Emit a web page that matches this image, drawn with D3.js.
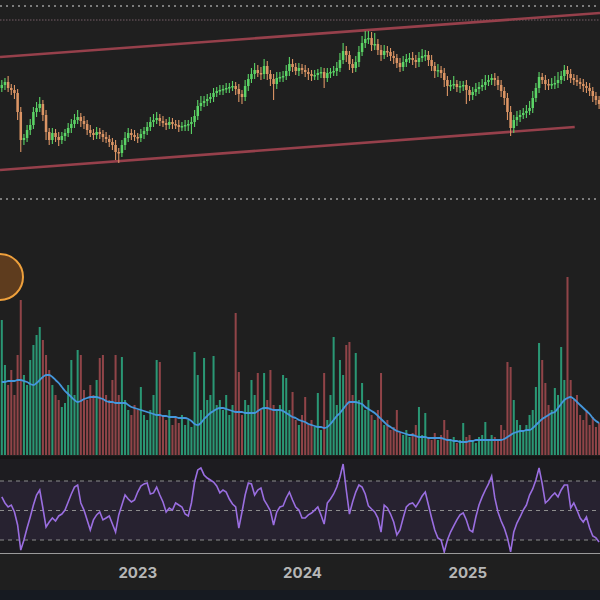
<!DOCTYPE html>
<html><head><meta charset="utf-8">
<script src="https://cdn.jsdelivr.net/npm/d3@7"></script>
<style>html,body{margin:0;padding:0;background:#1f1f1f;}svg{display:block;}</style>
</head><body>
<script>
// ---- data (weekly bars) ----
const startWeek = "2022-03-07";
const yearTicks = ["2023-01-01", "2024-01-01", "2025-01-01"];
const closes = [
115,118,112,110,107,88,60,62,70,75,
88,92,96,85,68,60,67,63,60,64,
67,72,76,80,83,79,76,70,67,65,
68,66,63,61,58,55,48,47,55,62,
67,65,63,62,66,69,73,78,80,82,
79,77,75,78,76,75,73,74,75,76,
78,84,94,97,99,101,103,107,109,110,
111,112,113,114,111,106,103,114,121,126,
130,127,126,134,126,121,116,122,123,124,
129,136,133,129,132,130,128,126,124,125,
127,128,122,127,128,129,132,140,149,145,
136,132,138,148,157,161,162,155,156,150,
145,149,148,144,142,137,133,138,141,142,
140,138,142,144,145,140,134,129,130,127,
120,114,115,116,113,114,115,110,105,108,
111,113,115,118,120,122,120,115,109,102,
88,72,80,83,85,87,89,92,102,112,
123,120,116,115,116,117,120,124,130,126,
122,120,118,116,114,112,109,104,100,96];
const wickUp = [
5,4,6,4,5,4,5,4,5,6, 5,6,7,4,5,4,5,4,5,4, 4,5,5,6,7,4,5,4,5,4, 5,4,4,5,4,4,5,4,5,6,
5,4,5,4,5,4,5,5,6,6, 4,5,4,5,4,4,5,4,5,4, 5,6,6,7,5,5,4,5,4,5, 4,5,4,5,4,5,4,6,5,6,
7,5,6,7,5,4,5,6,5,5, 6,7,5,4,5,4,5,4,4,5, 4,5,4,5,4,5,6,7,8,5, 4,5,6,6,7,8,7,6,11,5,
5,6,5,4,5,4,5,6,5,5, 6,5,6,7,5,4,5,4,6,4, 5,4,5,8,4,5,4,5,4,5, 6,5,6,7,5,4,5,4,5,4,
5,6,5,6,5,5,6,7,7,5, 5,4,5,5,6,7,8,5,5,4, 5,4,5,4,5,4,5,4,4,4];
const wickDn = [
4,5,4,5,6,8,12,5,4,5, 4,5,4,6,8,5,4,5,6,4, 5,4,5,4,4,6,5,5,4,5, 4,5,5,4,5,5,8,10,4,5,
4,5,4,5,4,5,4,4,5,4, 5,4,5,4,5,4,5,4,5,6, 10,5,4,5,4,5,4,5,4,4, 5,4,5,4,6,8,7,4,5,4,
5,4,6,5,6,7,16,5,4,5, 4,5,5,4,5,4,5,6,5,4, 5,5,10,4,5,4,5,4,4,7, 6,5,4,5,4,5,5,6,5,5,
6,4,5,5,6,5,5,4,5,4, 5,6,5,4,5,6,5,7,6,5, 7,10,5,4,5,6,5,14,6,5, 4,5,4,5,4,5,6,5,6,7,
8,8,5,6,5,4,5,4,5,4, 5,4,6,5,4,5,5,4,5,6, 5,5,4,5,6,5,5,6,5,5];
const volume = [
135,90,70,85,60,100,155,80,70,95,
110,120,128,115,100,85,70,60,55,48,
52,70,95,60,105,100,65,55,70,60,
75,97,100,60,55,75,100,60,98,55,
45,40,50,45,68,40,35,45,60,95,
93,40,35,45,30,38,32,40,30,35,
28,103,80,45,97,55,60,99,50,55,
45,60,40,50,142,83,40,55,50,75,
60,82,45,82,55,85,50,45,50,80,
77,45,63,35,30,40,58,30,35,28,
62,25,82,35,60,118,50,95,80,110,
113,60,102,55,72,45,55,40,35,45,
82,30,35,25,28,45,22,20,25,18,
22,30,48,20,42,18,15,22,15,20,
35,25,15,18,12,15,32,18,20,15,
12,18,20,33,15,20,18,15,30,25,
93,88,55,35,30,25,30,40,45,68,
112,95,72,50,45,67,60,108,75,178,
75,55,60,40,35,45,30,38,28,32];
const volumeMA = [
73,73,74,74,74,75,75,74,73,71,
70,72,75,78,80,80,78,75,72,68,
64,61,58,55,53,54,56,57,58,58,
58,57,56,54,53,53,52,52,52,52,
50,48,47,46,45,44,43,42,41,40,
40,39,39,38,38,38,37,37,37,36,
34,31,30,32,36,39,42,44,46,47,
47,46,45,44,43,43,43,42,42,42,
42,44,46,47,47,46,45,45,45,44,
42,40,38,37,35,34,33,31,30,29,
28,28,27,28,31,35,39,42,46,50,
53,53,53,52,51,48,46,44,42,39,
36,33,30,28,26,24,23,22,21,20,
20,19,18,18,18,17,17,17,17,17,
16,15,15,14,14,13,13,13,14,14,
15,15,15,15,15,15,15,15,15,16,
18,20,22,23,24,24,25,25,27,30,
33,36,38,40,42,43,47,51,55,57,
58,56,53,50,47,44,41,37,34,32];
const rsi = [
59.2,55.1,52.4,53.7,49.0,40.2,23.2,30.0,38.1,45.6,
53.7,60.5,63.9,51.7,38.8,42.2,44.9,42.9,46.3,47.6,
50.3,55.8,61.2,65.9,67.3,55.1,50.3,43.6,36.8,43.6,
47.0,49.0,43.6,44.9,46.3,40.8,35.4,47.0,53.7,60.5,
57.8,55.8,57.1,62.5,66.6,68.0,68.6,61.2,61.9,65.9,
60.5,55.8,49.0,51.7,50.3,55.1,53.7,52.4,47.6,46.3,
55.1,69.3,77.5,78.8,74.1,72.0,70.7,69.3,66.6,61.9,
63.9,62.5,57.8,54.4,52.4,38.1,49.0,60.5,68.6,68.0,
60.5,63.9,65.3,57.1,53.7,49.7,40.2,49.0,52.4,53.1,
58.5,62.5,57.1,52.4,50.3,44.9,44.9,47.0,48.3,50.3,
52.4,47.0,40.8,55.1,57.8,61.2,65.9,72.7,81.5,63.9,
47.6,55.8,62.5,67.3,65.9,61.2,53.1,51.0,49.0,44.9,
35.4,53.7,51.7,47.6,42.2,33.4,36.8,44.9,52.4,54.4,
55.1,52.4,55.8,59.8,62.5,53.7,44.9,36.8,31.4,30.0,
21.9,30.0,35.4,39.5,43.6,47.0,48.3,43.6,36.8,35.4,
45.6,53.7,59.2,63.9,68.0,73.4,58.5,49.0,42.9,38.1,
31.4,21.9,35.4,41.5,45.6,50.3,53.7,60.5,64.6,70.7,
78.8,68.0,55.1,57.1,59.8,61.9,59.2,63.9,67.3,67.3,
51.7,55.1,50.3,44.9,42.2,45.6,38.1,32.7,31.4,28.6];
const rsiLevels = [70, 50, 30];
const upperChannel = [{date: "2022-03-03", price: 143}, {date: "2025-10-22", price: 187}];
const lowerChannel = [{date: "2022-03-03", price: 30}, {date: "2025-08-27", price: 73}];
const highlight = {date: "2022-03-03", volume: 178};

// ---- build ----
const W = 600, H = 600;
const parse = d3.utcParse("%Y-%m-%d");
const t0 = parse(startWeek);
const bars = closes.map((c, i) => {
  const o = i === 0 ? c - 3 : closes[i - 1];
  return {
    date: d3.utcDay.offset(t0, 7 * i),
    open: o, close: c,
    high: Math.max(o, c) + (wickUp[i] ?? 4),
    low: Math.min(o, c) - (wickDn[i] ?? 4),
    vol: volume[i] ?? 0, volMA: volumeMA[i], rsi: rsi[i], up: c >= o
  };
});

const x = d3.scaleUtc().domain([parse("2022-03-03"), parse("2025-10-22")]).range([0, W]);
const yP = d3.scaleLinear().domain([0, 200]).range([200, 0]);
const yV = d3.scaleLinear().domain([0, 200]).range([455, 255]);
const yR = d3.scaleLinear().domain([30, 70]).range([540, 481]);
const step = x(d3.utcDay.offset(t0, 7)) - x(t0);

const svg = d3.select("body").append("svg").attr("width", W).attr("height", H);
svg.append("rect").attr("width", W).attr("height", H).attr("fill", "#1f1f1f");

// dotted guide lines
svg.append("line").attr("x1", 0).attr("x2", W).attr("y1", 6).attr("y2", 6)
  .attr("stroke", "#7c7c7c").attr("stroke-width", 2).attr("stroke-dasharray", "2,4");
svg.append("line").attr("x1", 0).attr("x2", W).attr("y1", 20).attr("y2", 20)
  .attr("stroke", "#5a4a50").attr("stroke-width", 1.5).attr("stroke-dasharray", "1.5,1.5");
svg.append("line").attr("x1", 0).attr("x2", W).attr("y1", 199).attr("y2", 199)
  .attr("stroke", "#7c7c7c").attr("stroke-width", 2).attr("stroke-dasharray", "2,4");

// channel lines
const chLine = d3.line().x(d => x(parse(d.date))).y(d => yP(d.price));
[upperChannel, lowerChannel].forEach(ch => {
  svg.append("path").attr("d", chLine(ch)).attr("fill", "none")
    .attr("stroke", "#96404b").attr("stroke-width", 2.6);
});

// candles
const upCol = "#5bd466", dnCol = "#dc9565";
const cg = svg.append("g");
cg.selectAll("line").data(bars).join("line")
  .attr("x1", d => x(d.date)).attr("x2", d => x(d.date))
  .attr("y1", d => yP(d.high)).attr("y2", d => yP(d.low))
  .attr("stroke", d => d.up ? upCol : dnCol).attr("stroke-width", 1.1);
cg.selectAll("rect").data(bars).join("rect")
  .attr("x", d => x(d.date) - step * 0.4).attr("width", step * 0.8)
  .attr("y", d => yP(Math.max(d.open, d.close)))
  .attr("height", d => Math.max(1.5, Math.abs(yP(d.open) - yP(d.close))))
  .attr("fill", d => d.up ? upCol : dnCol);

// volume
const vg = svg.append("g");
vg.selectAll("rect").data(bars).join("rect")
  .attr("x", d => x(d.date) - step * 0.32).attr("width", step * 0.64)
  .attr("y", d => yV(d.vol)).attr("height", d => yV(0) - yV(d.vol))
  .attr("fill", d => d.up ? "#2db58a" : "#ad4d53").attr("opacity", 0.8);
svg.append("path").datum(bars)
  .attr("d", d3.line().x(d => x(d.date)).y(d => yV(d.volMA)).curve(d3.curveMonotoneX))
  .attr("fill", "none").attr("stroke", "#4597dc").attr("stroke-width", 1.8);

// highlight circle
svg.append("circle").attr("cx", x(parse(highlight.date))).attr("cy", yV(highlight.volume)).attr("r", 23)
  .attr("fill", "#6a421f").attr("fill-opacity", 0.85).attr("stroke", "#eea03c").attr("stroke-width", 2);

// separator + RSI panel
svg.append("rect").attr("x", 0).attr("y", 456).attr("width", W).attr("height", 3).attr("fill", "#151515");
svg.append("rect").attr("x", 0).attr("y", 459).attr("width", W).attr("height", 94).attr("fill", "#1d1c20");
svg.append("rect").attr("x", 0).attr("y", yR(70)).attr("width", W).attr("height", yR(30) - yR(70))
  .attr("fill", "#7e57c2").attr("fill-opacity", 0.1);
svg.selectAll(".lvl").data(rsiLevels).join("line").attr("class", "lvl")
  .attr("x1", 0).attr("x2", W).attr("y1", d => yR(d)).attr("y2", d => yR(d))
  .attr("stroke", "#8c8c8c").attr("stroke-width", 1).attr("stroke-dasharray", "4,4");
svg.append("clipPath").attr("id", "rc").append("rect").attr("x", 0).attr("y", 459).attr("width", W).attr("height", 94);
svg.append("path").datum(bars).attr("clip-path", "url(#rc)")
  .attr("d", d3.line().x(d => x(d.date)).y(d => yR(d.rsi)))
  .attr("fill", "none").attr("stroke", "#9a6ee0").attr("stroke-width", 1.6);
svg.append("line").attr("x1", 0).attr("x2", W).attr("y1", 553.5).attr("y2", 553.5)
  .attr("stroke", "#9a9a9a").attr("stroke-width", 1.2);

// bottom band
svg.append("rect").attr("x", 0).attr("y", 590).attr("width", W).attr("height", 10).attr("fill", "#161a21");

// time axis
const ax = svg.append("g").attr("transform", "translate(0,565)")
  .call(d3.axisBottom(x).tickValues(yearTicks.map(parse)).tickFormat(d3.utcFormat("%Y")).tickSize(0));
ax.select(".domain").remove();
ax.selectAll("text").attr("fill", "#b6b6b6").attr("font-family", "Inter, Roboto, sans-serif")
  .attr("font-size", 15).attr("font-weight", 700).attr("dy", "0.75em").attr("y", 2);
</script>
</body></html>
